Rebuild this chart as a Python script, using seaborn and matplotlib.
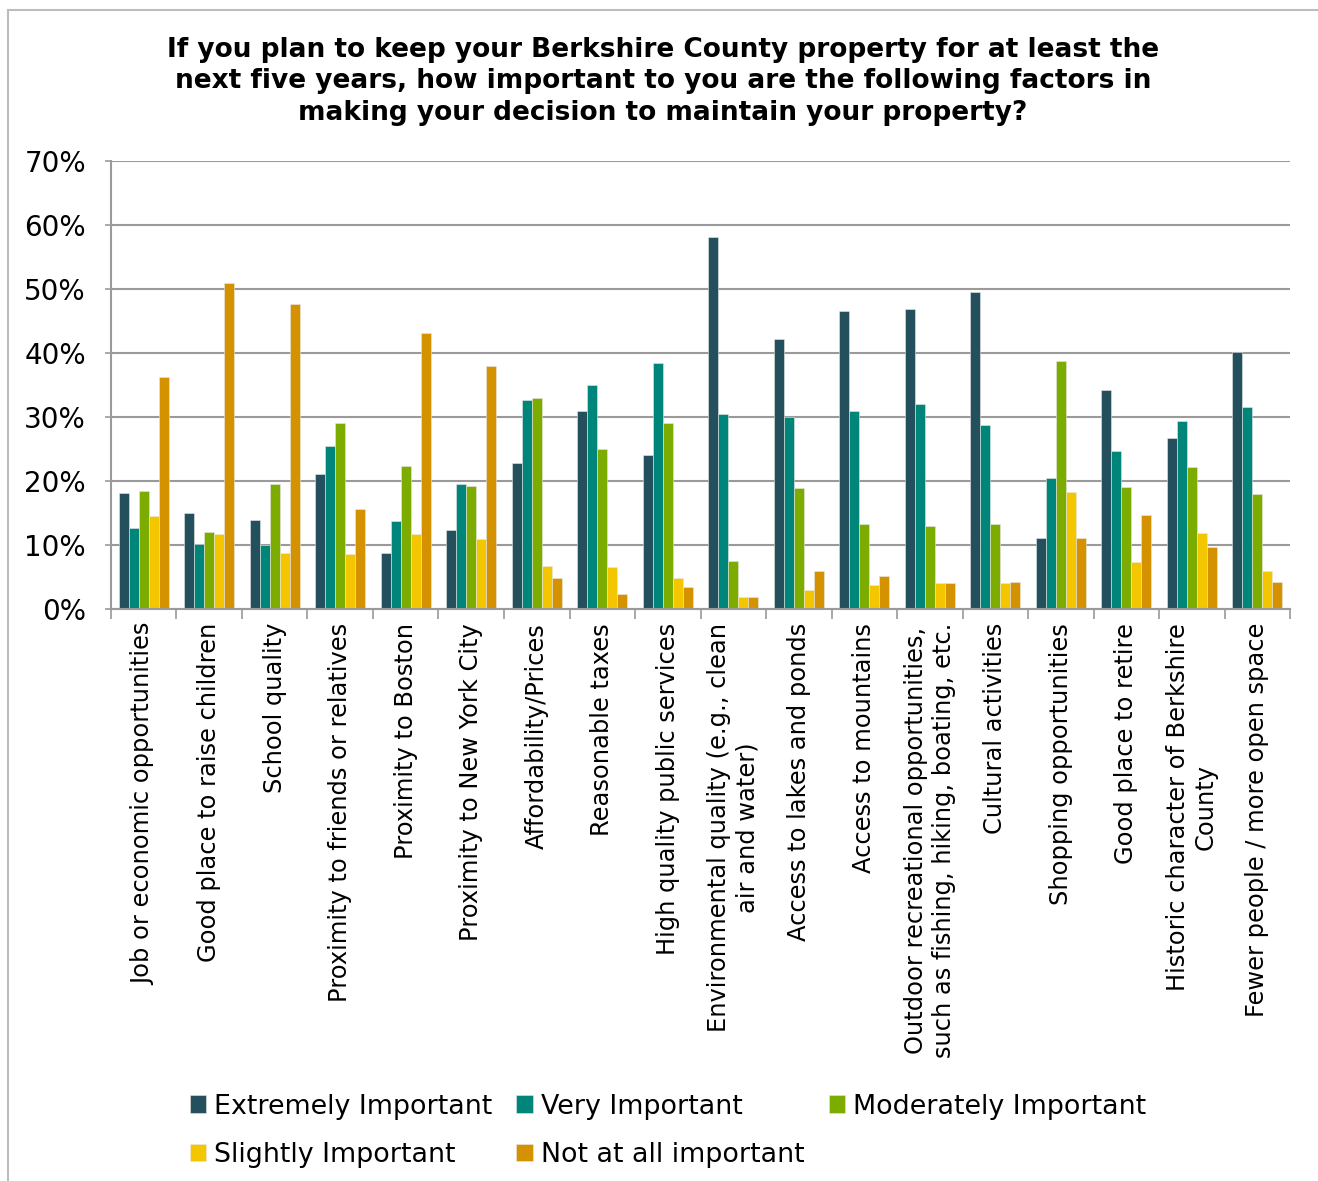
import numpy as np
import pandas as pd
import matplotlib
matplotlib.use("Agg")
import matplotlib.pyplot as plt
from matplotlib.patches import Rectangle
from matplotlib.ticker import FixedLocator, PercentFormatter
import seaborn as sns

categories = [
    "Job or economic opportunities",
    "Good place to raise children",
    "School quality",
    "Proximity to friends or relatives",
    "Proximity to Boston",
    "Proximity to New York City",
    "Affordability/Prices",
    "Reasonable taxes",
    "High quality public services",
    "Environmental quality (e.g., clean\nair and water)",
    "Access to lakes and ponds",
    "Access to mountains",
    "Outdoor recreational opportunities,\nsuch as fishing, hiking, boating, etc.",
    "Cultural activities",
    "Shopping opportunities",
    "Good place to retire",
    "Historic character of Berkshire\nCounty",
    "Fewer people / more open space",
]

series_names = [
    "Extremely Important",
    "Very Important",
    "Moderately Important",
    "Slightly Important",
    "Not at all important",
]

extremely = [18.1, 15.0, 13.9, 21.1, 8.7, 12.4, 22.8, 30.9, 24.0, 58.1, 42.2, 46.6, 46.8, 49.6, 11.1, 34.2, 26.7, 40.2]
very = [12.6, 10.1, 10.0, 25.4, 13.7, 19.5, 32.6, 35.0, 38.4, 30.4, 30.0, 31.0, 32.0, 28.7, 20.5, 24.7, 29.4, 31.5]
moderately = [18.4, 12.0, 19.6, 29.0, 22.3, 19.2, 32.9, 25.0, 29.1, 7.5, 18.9, 13.3, 13.0, 13.3, 38.8, 19.0, 22.2, 17.9]
slightly = [14.6, 11.8, 8.7, 8.6, 11.8, 11.0, 6.8, 6.5, 4.9, 1.9, 3.0, 3.8, 4.1, 4.1, 18.3, 7.3, 11.9, 6.0]
not_at_all = [36.2, 50.9, 47.6, 15.7, 43.2, 37.9, 4.9, 2.4, 3.5, 1.9, 5.9, 5.2, 4.1, 4.3, 11.1, 14.7, 9.7, 4.3]

colors = ["#24505E", "#00857B", "#7DAC00", "#F3C600", "#D49200"]

y_ticks = [0, 10, 20, 30, 40, 50, 60, 70]

rows = []
for name, vals in zip(series_names, [extremely, very, moderately, slightly, not_at_all]):
    for cat, v in zip(categories, vals):
        rows.append({"Factor": cat, "Importance": name, "Percent": v})
df = pd.DataFrame(rows)

sns.set_theme(style="white")
plt.rcParams["font.family"] = ["DejaVu Sans"]
plt.rcParams["text.color"] = "black"
plt.rcParams["xtick.labelcolor"] = "black"
plt.rcParams["ytick.labelcolor"] = "black"

fig = plt.figure(figsize=(13.18, 11.81), dpi=100)
ax = fig.add_axes([0.0842, 0.4843, 0.8946, 0.3794])

sns.barplot(
    data=df, x="Factor", y="Percent", hue="Importance",
    order=categories, hue_order=series_names, palette=colors,
    saturation=1, width=0.76, gap=0, edgecolor="#e8e8e8", linewidth=0.4,
    errorbar=None, ax=ax, legend=True,
)

ax.set_ylim(0, 70)
ax.set_xlim(-0.5, len(categories) - 0.5)
ax.yaxis.set_major_locator(FixedLocator(y_ticks))
ax.yaxis.set_major_formatter(PercentFormatter(decimals=0))
ax.grid(axis="y", color="#9a9a9a", linewidth=1.5)
ax.set_axisbelow(True)
ax.set_xlabel("")
ax.set_ylabel("")

for side in ["top", "right"]:
    ax.spines[side].set_visible(False)
for side in ["left", "bottom"]:
    ax.spines[side].set_color("#9a9a9a")
    ax.spines[side].set_linewidth(1.5)

ax.tick_params(axis="y", which="major", length=4, width=1.2, color="#9a9a9a",
               labelsize=20, pad=14, left=True)
ax.set_xticks(range(len(categories)))
ax.set_xticklabels(categories, rotation=90, fontsize=17.4, va="top", ha="center",
                   multialignment="center")
ax.tick_params(axis="x", which="major", length=0, pad=10)
ax.set_xticks(np.arange(-0.5, len(categories), 1.0), minor=True)
ax.tick_params(axis="x", which="minor", length=7, width=1.2, color="#9a9a9a", bottom=True)

handles, labels = ax.get_legend_handles_labels()
ax.get_legend().remove()
order = [0, 3, 1, 4, 2]
fig.legend(
    [handles[i] for i in order], [labels[i] for i in order],
    ncol=3, loc="upper left", bbox_to_anchor=(0.1255, 0.0946),
    frameon=False, fontsize=19.4, handlelength=0.6, handleheight=0.6,
    handletextpad=0.3, columnspacing=0.9, labelspacing=0.85,
)

fig.text(0.503, 0.969,
         "If you plan to keep your Berkshire County property for at least the\n"
         "next five years, how important to you are the following factors in\n"
         "making your decision to maintain your property?",
         ha="center", va="top", fontsize=19, fontweight="bold", linespacing=1.29)

fig.patches.append(Rectangle((8 / 1318, -0.01), 1.2, 1 - 10 / 1181 + 0.01,
                             transform=fig.transFigure, fill=False,
                             edgecolor="#bdbdbd", linewidth=1.5))

fig.savefig("out.png", dpi=100, facecolor="white")
